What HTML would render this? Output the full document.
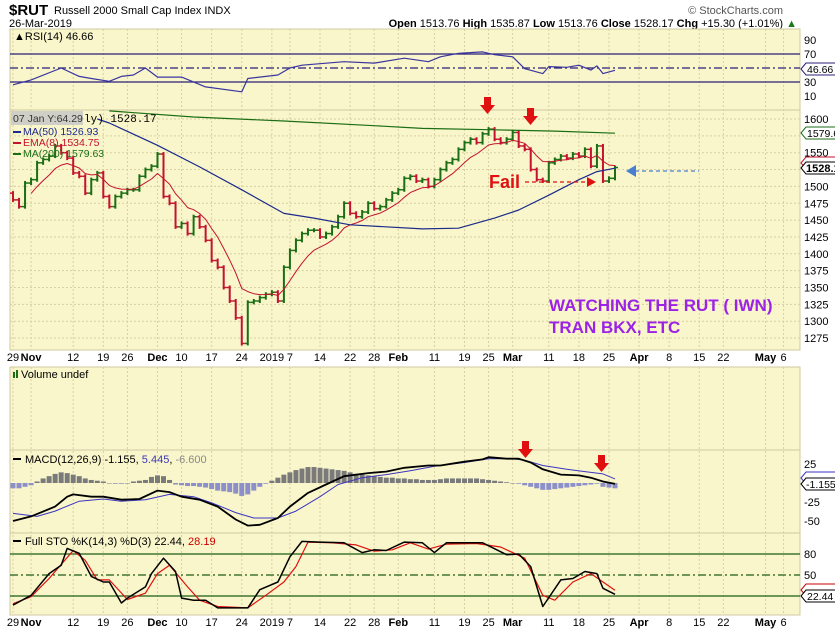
<!DOCTYPE html>
<html><head><meta charset="utf-8">
<style>
html,body{margin:0;padding:0;background:#fff;}
svg{display:block;font-family:"Liberation Sans",sans-serif;}
</style></head>
<body>
<svg id="chart" width="835" height="630" viewBox="0 0 835 630" xmlns="http://www.w3.org/2000/svg">
<rect x="0" y="0" width="835" height="630" fill="#ffffff"/>
<g>
<text x="9" y="15" font-size="15" font-weight="bold" fill="#000">$RUT</text>
<text x="54" y="14" font-size="11" fill="#000">Russell 2000 Small Cap Index  INDX</text>
<text x="783" y="14" font-size="11" fill="#555" text-anchor="end">© StockCharts.com</text>
<text x="9" y="27" font-size="11" fill="#000">26-Mar-2019</text>
<text x="797" y="27" font-size="11" fill="#000" text-anchor="end"><tspan font-weight="bold">Open</tspan> 1513.76 <tspan font-weight="bold">High</tspan> 1535.87 <tspan font-weight="bold">Low</tspan> 1513.76 <tspan font-weight="bold">Close</tspan> 1528.17 <tspan font-weight="bold">Chg</tspan> +15.30 (+1.01%) <tspan fill="#1a7a1a">▲</tspan></text>
</g>
<g id="panels"></g>
<g id="grid"></g>
<g id="marks"></g>
<g id="labels"></g>
</svg>
<script>
// ---------- data ----------
const closes = [1480,1470,1505,1510,1535,1540,1545,1560,1550,1542,1520,1515,1490,1510,1520,1485,1470,1485,1490,1495,1495,1515,1525,1530,1548,1485,1475,1440,1445,1430,1455,1440,1420,1390,1380,1350,1330,1305,1267,1328,1330,1335,1340,1343,1330,1380,1405,1420,1430,1435,1435,1425,1430,1440,1455,1475,1460,1455,1462,1475,1467,1470,1480,1490,1495,1512,1515,1508,1510,1500,1510,1525,1535,1540,1555,1565,1570,1565,1578,1585,1570,1565,1570,1580,1560,1555,1525,1510,1508,1535,1540,1545,1542,1548,1545,1555,1530,1560,1508,1512,1528];
const ma50Idx = [14,16,24,31,38,45,50,56,68,74,80,84,89,94,97,100];
const ma50Val = [1600,1594,1561,1529,1495,1460,1453,1443,1437,1438,1453,1465,1487,1510,1522,1527];
const ma200Idx = [16,30,45,60,68,80,90,100];
const ma200Val = [1612,1603,1597,1590,1586,1584,1582,1579];
const rsiIdx = [0,3,8,11,13,16,18,20,22,24,28,32,38,39,44,46,48,55,60,65,69,71,74,78,80,83,85,88,89,92,94,96,97,98,100];
const rsiVal = [26,33,50,38,35,31,38,40,50,37,37,23,16,35,40,50,54,59,57,64,59,66,71,73,69,66,49,42,52,51,54,47,53,42,46.66];
const macdIdx = [0,3,7,9,10,13,15,18,21,24,26,28,31,34,37,39,41,44,46,49,52,55,59,62,65,69,71,75,78,79,82,84,86,88,91,94,96,98,100];
const macdVal = [-50,-44,-31,-18,-15,-18,-18,-22,-21,-10,-12,-18,-22,-31,-48,-56,-55,-46,-31,-13,-2,9,13,15,20,23,23,28,31,34,32,32,27,18,11,10,7,2,-1.2];
const sigIdx = [0,4,7,11,15,18,22,26,30,33,37,40,44,47,51,54,58,62,66,70,75,79,83,85,88,92,95,98,100];
const sigVal = [-40,-44,-37,-24,-21,-24,-22,-15,-18,-26,-39,-46,-46,-37,-18,-2,7,11,16,22,27,32,32,30,23,18,15,12,5.4];
const hist = [-7,-7,-5,-3, 2,6,9,12,14, 13,11,9, 6,4,3,2, 0,-1,-1,0, 2,3,4, 8,10,9, 4,-2,-3, -4,-4,-5,-6, -8,-10,-11,-12, -14,-17,-15, -10,-5,-1, 3,7,11, 14,17,19, 21,21,20,19, 18,17,16, 14,12,11,10, 9,8,7,7, 6,6,5,5, 4,4,4, 5,6,6,6, 6,6,6,5, 4,3,2, 1,0,-1, -3,-5,-7, -9,-9,-8, -7,-6,-5,-4, -3,-2,-1, -5,-6,-7];
const kIdx = [0,3,6,8,9,11,13,15,16,18,19,22,23,25,27,28,30,32,34,37,39,41,44,46,48,51,55,58,60,62,65,68,70,72,76,78,82,84,86,88,91,93,95,97,98,100];
const kVal = [7,21,52,64,88,81,48,40,40,10,17,33,52,74,55,17,14,14,3,3,3,29,40,76,98,97,96,82,86,85,97,96,82,96,96,96,79,80,62,5,43,45,55,52,31,22.44];
const dIdx = [0,3,6,10,12,14,16,19,22,24,26,29,31,34,39,42,45,47,49,53,57,60,63,66,69,72,77,81,85,88,90,93,96,98,100];
const dVal = [9,19,45,85,71,43,43,15,24,52,64,33,14,5,3,21,40,62,97,96,93,84,86,96,87,94,95,90,74,21,14,40,52,40,28.19];
const tickLabels = ["29","Nov","12","19","26","Dec","10","17","24","2019","7","14","22","28","Feb","11","19","25","Mar","11","18","25","Apr","8","15","22","May","6"];
const tickDates = ["2018-10-29","2018-11-01","2018-11-12","2018-11-19","2018-11-26","2018-12-03","2018-12-10","2018-12-17","2018-12-24","2019-01-02","2019-01-07","2019-01-14","2019-01-22","2019-01-28","2019-02-01","2019-02-11","2019-02-19","2019-02-25","2019-03-01","2019-03-11","2019-03-18","2019-03-25","2019-04-01","2019-04-08","2019-04-15","2019-04-22","2019-05-01","2019-05-06"];
const priceTicks = [1600,1575,1550,1525,1500,1475,1450,1425,1400,1375,1350,1325,1300,1275];
const priceLabels = ["1600","","1550","","1500","1475","1450","1425","1400","1375","1350","1325","1300","1275"];

// ---------- scales ----------
const L=10, R=800;
const x = i => 13 + i*6.02;
const py = v => 119 + (1600-v)*0.674;
const ry = v => 103 - v*0.7;
const my = v => 483 - v*0.76;
const sy = v => 610 - v*0.7;
const NS="http://www.w3.org/2000/svg";
function mk(tag, attrs, parent){const e=document.createElementNS(NS,tag);for(const k in attrs)e.setAttribute(k,attrs[k]);parent.appendChild(e);return e;}
const panels=document.getElementById('panels'), grid=document.getElementById('grid'), marks=document.getElementById('marks'), labels=document.getElementById('labels');

const hol=new Set(["2018-11-22","2018-12-05","2018-12-25","2019-01-01","2019-01-21","2019-02-18","2019-04-19"]);
const days=[];
for(let d=new Date(Date.UTC(2018,9,29)); d<=new Date(Date.UTC(2019,4,10)); d.setUTCDate(d.getUTCDate()+1)){
  const w=d.getUTCDay(); const s=d.toISOString().slice(0,10);
  if(w!==0&&w!==6&&!hol.has(s)) days.push(s);
}
const dIndex = s => days.indexOf(s);

const panelDefs=[["rsi-panel",29,110],["price-panel",110,350],["volume-panel",367,450],["macd-panel",450,533],["sto-panel",533,615]];
panelDefs.forEach(p=>{
  const r=mk('rect',{x:L,y:p[1],width:R-L,height:p[2]-p[1],fill:'#f9f6cb',stroke:'#cfc8a0','stroke-width':1},panels);
  
  
});

tickDates.forEach((s,k)=>{
  const xi=x(dIndex(s));
  [[29,350],[367,615]].forEach(([a,b])=>{
    const ln=mk('line',{x1:xi,x2:xi,y1:a,y2:b,stroke:'#d8d0a0','stroke-dasharray':'2,2','stroke-width':1},grid);
    
    
  });
  const bold=isNaN(+tickLabels[k]);
  [361,626].forEach(yy=>{
    const t=mk('text',{x:xi,y:yy,'font-size':11,'text-anchor':'middle','font-weight':bold?'bold':'normal',fill:'#000'},labels);
    t.textContent=tickLabels[k];
    
    
  });
});
priceTicks.forEach((v,k)=>{
  const ln=mk('line',{x1:L,x2:R,y1:py(v),y2:py(v),stroke:'#d8d0a0','stroke-dasharray':'2,2'},grid);
  
  
  if(priceLabels[k]){
    const t=mk('text',{x:804,y:py(v)+4,'font-size':11,fill:'#000'},labels);
    t.textContent=priceLabels[k];
    
    
  }
});
[[90,"90"],[70,"70"],[30,"30"],[10,"10"]].forEach(([v,s])=>{
  const t=mk('text',{x:804,y:ry(v)+4,'font-size':11,fill:'#000'},labels);t.textContent=s;
  
  
});
[[25,"25"],[-25,"-25"],[-50,"-50"]].forEach(([v,s])=>{
  const t=mk('text',{x:804,y:my(v)+4,'font-size':11,fill:'#000'},labels);t.textContent=s;
  
  
});
[[80,"80"],[50,"50"]].forEach(([v,s])=>{
  const t=mk('text',{x:804,y:sy(v)+4,'font-size':11,fill:'#000'},labels);t.textContent=s;
  
  
});

function poly(idx,val,f,color,w,name){
  const pts=idx.map((i,k)=>x(i).toFixed(1)+','+f(val[k]).toFixed(1)).join(' ');
  const p=mk('polyline',{points:pts,fill:'none',stroke:color,'stroke-width':w,'stroke-linejoin':'round'},marks);
  
  
  return p;
}
function hline(yv,color,dash,name,w){
  const l=mk('line',{x1:L,x2:R,y1:yv,y2:yv,stroke:color,'stroke-width':w||1.2},marks);
  if(dash)l.setAttribute('stroke-dasharray',dash);
  
  
}

hline(ry(70),'#2a1f7a',null,'rsi-70-line');
hline(ry(30),'#2a1f7a',null,'rsi-30-line');
hline(ry(50),'#2a1f7a','8,3,2,3','rsi-50-line');
poly(rsiIdx,rsiVal,ry,'#3b35a0',1.2,'rsi-line');

closes.forEach((c,i)=>{
  const o=i>0?closes[i-1]:c+10;
  const up=c>=o;
  const col=up?'#1b6e14':'#c4122f';
  const hi=Math.max(o,c)+3, lo=Math.min(o,c)-3;
  const g=mk('g',{},marks);
  
  
  mk('line',{x1:x(i),x2:x(i),y1:py(hi),y2:py(lo),stroke:col,'stroke-width':2},g);
  mk('line',{x1:x(i)-3,x2:x(i),y1:py(o),y2:py(o),stroke:col,'stroke-width':1.5},g);
  mk('line',{x1:x(i),x2:x(i)+3,y1:py(c),y2:py(c),stroke:col,'stroke-width':1.5},g);
});
const ema=[];let e=closes[0];
closes.forEach((c,i)=>{e=i===0?c:e+(c-e)*2/9;ema.push(e);});
poly(closes.map((_,i)=>i).slice(3),ema.slice(3),py,'#c4122f',1,'ema8-line');
poly(ma50Idx,ma50Val,py,'#1c2a8a',1.2,'ma50-line');
poly(ma200Idx,ma200Val,py,'#1b6e14',1.2,'ma200-line');

hist.forEach((h,i)=>{
  const r=mk('rect',{x:x(i)-2.5,y:Math.min(my(h),my(0)),width:5,height:Math.abs(my(h)-my(0))||0.5,fill:h>=0?'#7a7a7a':'#8d8fc9'},marks);
  
  
});
poly(sigIdx,sigVal,my,'#3b35c0',1,'macd-signal-line');
poly(macdIdx,macdVal,my,'#000',1.8,'macd-line');

hline(sy(80),'#1b5e14',null,'sto-80-line');
hline(sy(20),'#1b5e14',null,'sto-20-line');
hline(sy(50),'#1b5e14','8,3,2,3','sto-50-line');
poly(dIdx,dVal,sy,'#e01010',1.2,'sto-d-line');
poly(kIdx,kVal,sy,'#000',1.5,'sto-k-line');
</script>
<script>
(function(){
const svg=document.getElementById('chart');
svg.insertAdjacentHTML('beforeend',`
<g><text x="14" y="40" font-size="11" fill="#000">▲RSI(14) 46.66</text></g>
<g>
<rect x="11" y="111" width="72" height="14" fill="#c8c8c8" opacity="0.85"/>
<text x="13" y="122" font-size="10.5" fill="#333">07 Jan Y:64.29</text>
<text x="84" y="122" font-size="11" fill="#000" font-family="Liberation Mono, monospace">ly) 1528.17</text>
<line x1="13" y1="132" x2="21" y2="132" stroke="#1c2a8a" stroke-width="2"/><text x="23" y="135" font-size="10.5" fill="#1c2a8a">MA(50) 1526.93</text>
<line x1="13" y1="143" x2="21" y2="143" stroke="#c4122f" stroke-width="2"/><text x="23" y="146" font-size="10.5" fill="#c4122f">EMA(8) 1534.75</text>
<line x1="13" y1="154" x2="21" y2="154" stroke="#1b6e14" stroke-width="2"/><text x="23" y="157" font-size="10.5" fill="#1b6e14">MA(200) 1579.63</text>
</g>
<g><rect x="13" y="372" width="2" height="6" fill="#1b6e14"/><rect x="16" y="370" width="2" height="8" fill="#1b6e14"/><text x="21" y="378" font-size="11" fill="#000">Volume undef</text></g>
<g><line x1="13" y1="459" x2="21" y2="459" stroke="#000" stroke-width="2"/><text x="25" y="463" font-size="11" fill="#000">MACD(12,26,9) -1.155, <tspan fill="#3b35c0">5.445</tspan>, <tspan fill="#888">-6.600</tspan></text></g>
<g><line x1="13" y1="541" x2="21" y2="541" stroke="#000" stroke-width="2"/><text x="25" y="545" font-size="11" fill="#000">Full STO %K(14,3) %D(3) 22.44, <tspan fill="#c00">28.19</tspan></text></g>
<g>
<path d="M801,69 l5,-6 h34 v12 h-34z" fill="#fff" stroke="#2a1f7a"/><text x="807" y="73" font-size="10.5" fill="#000">46.66</text>
<path d="M801,133 l5,-6 h34 v12 h-34z" fill="#fff" stroke="#1b6e14"/><text x="807" y="137" font-size="10.5" fill="#000">1579.6</text>
<path d="M801,163 l5,-6 h34 v12 h-34z" fill="#fff" stroke="#c4122f"/>
<path d="M801,168 l5,-6 h34 v12 h-34z" fill="#fff" stroke="#000"/><text x="806" y="172" font-size="11" font-weight="bold" fill="#000">1528.1</text>
<path d="M801,478 l5,-6 h34 v12 h-34z" fill="#fff" stroke="#3b35c0"/>
<path d="M801,484 l5,-6 h34 v12 h-34z" fill="#fff" stroke="#000"/><text x="806" y="488" font-size="10.5" fill="#000">-1.155</text>
<path d="M801,590 l5,-6 h34 v12 h-34z" fill="#fff" stroke="#c00"/>
<path d="M801,596 l5,-6 h34 v12 h-34z" fill="#fff" stroke="#000"/><text x="807" y="600" font-size="10.5" fill="#000">22.44</text>
</g>
<g><rect x="484" y="97" width="7" height="8" fill="#e01010"/><path d="M480,105 h15 l-7.5,9z" fill="#e01010"/></g>
<g><rect x="527" y="108" width="7" height="8" fill="#e01010"/><path d="M523,116 h15 l-7.5,9z" fill="#e01010"/></g>
<g><rect x="522" y="441" width="7" height="8" fill="#e01010"/><path d="M518,449 h15 l-7.5,9z" fill="#e01010"/></g>
<g><rect x="598" y="455" width="7" height="8" fill="#e01010"/><path d="M594,463 h15 l-7.5,9z" fill="#e01010"/></g>
<text x="489" y="188" font-size="18" font-weight="bold" fill="#e01010">Fail</text>
<g><line x1="525" y1="182" x2="588" y2="182" stroke="#e01010" stroke-width="1.2" stroke-dasharray="4,3"/><path d="M587,177 l9,5 l-9,5z" fill="#e01010"/></g>
<g><line x1="635" y1="171" x2="699" y2="171" stroke="#4a7fd0" stroke-width="1.2" stroke-dasharray="4,3"/><path d="M626,171 l10,-6 v12z" fill="#4a7fd0"/></g>
<text x="549" y="311" font-size="17" font-weight="bold" fill="#9b22e6">WATCHING THE RUT ( IWN)</text>
<text x="549" y="333" font-size="17" font-weight="bold" fill="#9b22e6">TRAN BKX, ETC</text>
`);
})();
</script>
</body></html>
